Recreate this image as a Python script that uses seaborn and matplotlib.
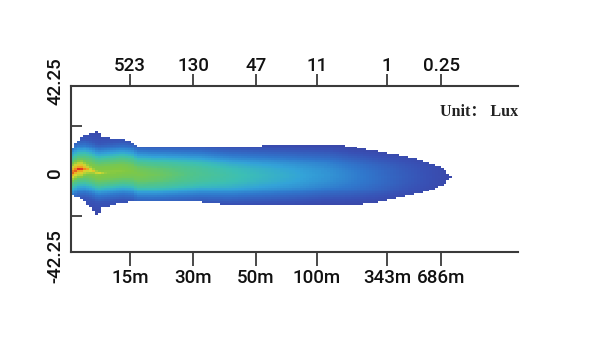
import numpy as np
import pandas as pd
import matplotlib
matplotlib.use("Agg")
import matplotlib.pyplot as plt
import matplotlib.transforms as mtransforms
import seaborn as sns
from matplotlib.colors import LinearSegmentedColormap

# ---- data ----
distance_labels = ["15m", "30m", "50m", "100m", "343m", "686m"]
lux_labels = ["523", "130", "47", "11", "1", "0.25"]
tick_pos = [13.2, 27.3, 41.4, 55.0, 70.7, 82.8]          # along-axis positions (0..100)

side_tick_pos = [44.3, 23.9, 0.0, -21.9, -40.2]
side_tick_labels = ["42.25", "", "0", "", "-42.25"]

beam_x = [0.0, 0.9, 1.6, 3.1, 4.7, 6.0, 6.9, 9.2, 11.4, 13.6, 14.8, 18.8,
          28.9, 35.6, 51.2, 57.5, 62.4, 69.1, 74.3, 79.6, 83.2, 85.2]
beam_top = [10.2, 15.3, 16.8, 19.3, 20.4, 22.4, 18.3, 17.8, 17.8, 15.8, 13.2, 13.2,
            13.7, 13.7, 14.3, 14.8, 13.7, 10.7, 8.7, 5.6, 2.5, -2.0]
beam_bottom = [-10.2, -12.7, -12.7, -14.8, -17.8, -22.4, -17.8, -16.3, -15.3, -14.3, -14.3, -14.8,
               -14.8, -16.3, -16.8, -16.8, -16.8, -14.8, -12.2, -9.2, -6.1, -2.0]

# broad beam: level on the beam axis and lateral fall-off
broad_x = [0.0, 11.0, 20.0, 29.0, 40.0, 51.0, 58.0, 65.0, 74.0, 85.2]
broad_level = [0.74, 0.73, 0.68, 0.60, 0.51, 0.43, 0.37, 0.29, 0.18, 0.07]
broad_offset = [0, 3, 6, 9, 12, 15, 22]
broad_factor = [1.0, 0.96, 0.84, 0.6, 0.38, 0.2, 0.08]

# hot core near the lamp
core_x = [0.0, 2.5, 3.2, 4.5, 7.0, 10.0]
core_level = [1.0, 1.0, 0.92, 0.86, 0.8, 0.7]
core_offset = [0, 0.8, 2.0, 4.5, 8]
core_factor = [1.0, 0.9, 0.84, 0.7, 0.4]

colour_stops = [0.0, 0.12, 0.28, 0.42, 0.52, 0.62, 0.72, 0.82, 0.9, 1.0]
colour_list = ["#3d3d9c", "#3850b4", "#3077cc", "#33a3d8", "#3cbfb4",
               "#52c488", "#80c844", "#d8d830", "#f0a020", "#e03020"]

X_MAX = 100.0
Y_HI, Y_LO = 44.3, -40.2
NX, NY = 150, 85

# ---- build the field ----
xc = (np.arange(NX) + 0.5) * X_MAX / NX
yc = Y_HI - (np.arange(NY) + 0.5) * (Y_HI - Y_LO) / NY
top = np.interp(xc, beam_x, beam_top)
bot = np.interp(xc, beam_x, beam_bottom)
mid = (top + bot) / 2
inside = (xc[None, :] <= beam_x[-1]) & (yc[:, None] <= top[None, :]) & (yc[:, None] >= bot[None, :])
dy = np.abs(yc[:, None] - mid[None, :])
broad = np.interp(xc, broad_x, broad_level)[None, :] * np.interp(dy, broad_offset, broad_factor)
core = np.interp(xc, core_x, core_level, right=0.0)[None, :] * np.interp(dy, core_offset, core_factor, right=0.0)
lvl = np.maximum(broad, core)
field = pd.DataFrame(np.where(inside, lvl, np.nan))

cmap = LinearSegmentedColormap.from_list("beam", list(zip(colour_stops, colour_list)))

sns.set_style("white")
plt.rcParams["font.family"] = ["Roboto", "DejaVu Sans"]
plt.rcParams["font.weight"] = "medium"

fig = plt.figure(figsize=(6.0, 3.52), dpi=100)
ax = fig.add_axes([71 / 600, 1 - 252 / 352, 447 / 600, 166 / 352])
sns.heatmap(field, ax=ax, cmap=cmap, vmin=0, vmax=1, cbar=False, mask=~inside,
            xticklabels=False, yticklabels=False)

edge = "#3a3a3a"
for s in ["left", "bottom"]:
    ax.spines[s].set_visible(True)
    ax.spines[s].set_color(edge)
    ax.spines[s].set_linewidth(1.5)
ax.spines["top"].set_visible(False)
ax.spines["right"].set_visible(False)

FS = 13.5
xt = [p * NX / X_MAX for p in tick_pos]
ax.set_xticks(xt)
ax.set_xticklabels(distance_labels, fontsize=FS, fontweight="medium")
ax.tick_params(axis="x", direction="out", length=10, width=1.3, color=edge, pad=2,
               bottom=True, labelcolor="#111")

yt = [(Y_HI - v) / (Y_HI - Y_LO) * NY for v in side_tick_pos]
ax.set_yticks(yt)
ax.set_yticklabels(side_tick_labels, fontsize=FS, fontweight="medium", rotation=90, va="center")
ax.tick_params(axis="y", direction="in", length=8, width=1.3, color=edge, pad=5,
               left=True, labelcolor="#111")
ax.yaxis.get_major_ticks()[2].tick1line.set_visible(False)
ylabels = ax.get_yticklabels()
ylabels[0].set_transform(ylabels[0].get_transform() +
                         mtransforms.ScaledTranslation(0, 5 / 100, fig.dpi_scale_trans))
ylabels[-1].set_transform(ylabels[-1].get_transform() +
                          mtransforms.ScaledTranslation(0, -4 / 100, fig.dpi_scale_trans))

secax = ax.secondary_xaxis("top")
secax.set_xticks(xt)
secax.set_xticklabels(lux_labels, fontsize=FS, fontweight="medium")
secax.tick_params(direction="out", length=9, width=1.3, color=edge, pad=-1, labelcolor="#111")
secax.spines["top"].set_color(edge)
secax.spines["top"].set_linewidth(1.5)

ax.text(1.0, 0.845, "Unit： Lux", transform=ax.transAxes, ha="right", va="center",
        fontsize=11.5, fontweight="bold", family=["Liberation Serif", "Noto Sans CJK SC"],
        color="#222")

fig.savefig("out.png", dpi=100, facecolor="white")
